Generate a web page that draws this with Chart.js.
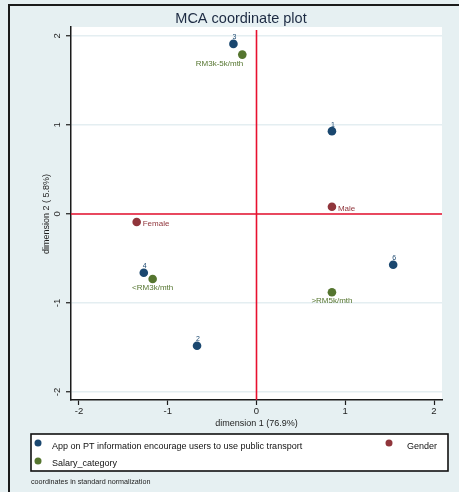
<!DOCTYPE html>
<html>
<head>
<meta charset="utf-8">
<script src="https://cdn.jsdelivr.net/npm/chart.js@4/dist/chart.umd.min.js"></script>
<style>
  html, body { margin: 0; padding: 0; background: #e6f0f2; }
  canvas { display: block; }
</style>
</head>
<body>
<canvas id="mca" width="459" height="492"></canvas>
<script>
// MCA coordinates (standard normalization)
const titleText = 'MCA coordinate plot';
const dim1Title = 'dimension 1 (76.9%)';
const dim2Title = 'dimension 2 ( 5.8%)';
const noteText = 'coordinates in standard normalization';
const axisTicks = [-2, -1, 0, 1, 2];

const appName = 'App on PT information encourage users to use public transport';
const appLabels = ['1', '2', '3', '4', '6'];
const appDim1 = [0.85, -0.67, -0.26, -1.27, 1.54];
const appDim2 = [0.93, -1.48, 1.91, -0.66, -0.57];

const genderName = 'Gender';
const genderLabels = ['Male', 'Female'];
const genderDim1 = [0.85, -1.35];
const genderDim2 = [0.08, -0.09];

const salaryName = 'Salary_category';
const salaryLabels = ['RM3k-5k/mth', '<RM3k/mth', '>RM5k/mth'];
const salaryDim1 = [-0.16, -1.17, 0.85];
const salaryDim2 = [1.79, -0.73, -0.88];

const FONT = '"Liberation Sans", Arial, Helvetica, sans-serif';
const NAVY = '#1a476f', MAROON = '#90353b', GREEN = '#55752f';
const REFLINE = '#e8102e';

function pts(xs, ys) { return xs.map((x, i) => ({ x: x, y: ys[i] })); }

// marker-label placement by clock position
const labelStyles = {
  app:    { pos: [12, 12, 12, 12, 12], size: 7 },
  gender: { pos: [3, 3], size: 8 },
  salary: { pos: [7, 6, 6], size: 8 }
};

const datasets = [
  { label: appName, data: pts(appDim1, appDim2), pointLabels: appLabels, labelStyle: labelStyles.app,
    backgroundColor: NAVY, borderColor: NAVY },
  { label: genderName, data: pts(genderDim1, genderDim2), pointLabels: genderLabels, labelStyle: labelStyles.gender,
    backgroundColor: MAROON, borderColor: MAROON },
  { label: salaryName, data: pts(salaryDim1, salaryDim2), pointLabels: salaryLabels, labelStyle: labelStyles.salary,
    backgroundColor: GREEN, borderColor: GREEN }
];

const decor = {
  id: 'decor',
  beforeDraw(chart) {
    const { ctx, chartArea: a, width, height } = chart;
    ctx.save();
    ctx.fillStyle = '#e6f0f2';
    ctx.fillRect(0, 0, width, height);
    ctx.strokeStyle = '#1b1b1b';
    ctx.lineWidth = 2;
    ctx.beginPath();
    ctx.moveTo(9, height + 5);
    ctx.lineTo(9, 5);
    ctx.lineTo(width + 5, 5);
    ctx.stroke();
    ctx.fillStyle = '#ffffff';
    ctx.fillRect(a.left, a.top, a.right - a.left, a.bottom - a.top);
    ctx.restore();
  },
  beforeDatasetsDraw(chart) {
    const { ctx, chartArea: a, scales } = chart;
    const x0 = scales.x.getPixelForValue(0);
    const y0 = scales.y.getPixelForValue(0);
    ctx.save();
    ctx.strokeStyle = REFLINE;
    ctx.lineWidth = 1.6;
    ctx.beginPath();
    ctx.moveTo(x0, a.top + 3);
    ctx.lineTo(x0, a.bottom);
    ctx.moveTo(a.left, y0);
    ctx.lineTo(a.right, y0);
    ctx.stroke();
    ctx.restore();
  },
  afterDatasetsDraw(chart) {
    const { ctx } = chart;
    ctx.save();
    chart.data.datasets.forEach((ds, di) => {
      const meta = chart.getDatasetMeta(di);
      ctx.fillStyle = ds.backgroundColor;
      ctx.font = ds.labelStyle.size + 'px ' + FONT;
      meta.data.forEach((el, i) => {
        const p = ds.labelStyle.pos[i];
        const txt = ds.pointLabels[i];
        let x = el.x, y = el.y;
        if (p === 12) { ctx.textAlign = 'center'; ctx.textBaseline = 'bottom'; x += 1; y -= 3; }
        else if (p === 3) { ctx.textAlign = 'left'; ctx.textBaseline = 'middle'; x += 6; y += 2; }
        else if (p === 6) { ctx.textAlign = 'center'; ctx.textBaseline = 'top'; y += 5; }
        else if (p === 7) { ctx.textAlign = 'right'; ctx.textBaseline = 'top'; x += 1; y += 5; }
        ctx.fillText(txt, x, y);
      });
    });
    ctx.restore();
  },
  afterDraw(chart) {
    const { ctx, scales } = chart;
    ctx.save();
    // title
    ctx.fillStyle = '#1c2a42';
    ctx.font = '14.5px ' + FONT;
    ctx.textAlign = 'center';
    ctx.textBaseline = 'middle';
    ctx.fillText(titleText, 241, 19);
    // axis titles
    ctx.fillStyle = '#1e1e1e';
    ctx.font = '9px ' + FONT;
    ctx.fillText(dim1Title, scales.x.getPixelForValue(0), 424);
    ctx.save();
    ctx.translate(47, scales.y.getPixelForValue(0));
    ctx.rotate(-Math.PI / 2);
    ctx.fillText(dim2Title, 0, 0);
    ctx.restore();
    // legend box
    ctx.fillStyle = '#ffffff';
    ctx.fillRect(31, 434, 417, 37);
    ctx.strokeStyle = '#111111';
    ctx.lineWidth = 1.6;
    ctx.strokeRect(31, 434, 417, 37);
    const items = [
      { ds: chart.data.datasets[0], dx: 38, dy: 443, tx: 52, ty: 447 },
      { ds: chart.data.datasets[1], dx: 389, dy: 443, tx: 407, ty: 447 },
      { ds: chart.data.datasets[2], dx: 38, dy: 461, tx: 52, ty: 464 }
    ];
    ctx.font = '9px ' + FONT;
    ctx.textAlign = 'left';
    ctx.textBaseline = 'middle';
    items.forEach(it => {
      ctx.fillStyle = it.ds.backgroundColor;
      ctx.beginPath();
      ctx.arc(it.dx, it.dy, 3.5, 0, Math.PI * 2);
      ctx.fill();
      ctx.fillStyle = '#111111';
      ctx.fillText(it.ds.label, it.tx, it.ty);
    });
    // note
    ctx.font = '7.2px ' + FONT;
    ctx.fillStyle = '#222222';
    ctx.fillText(noteText, 31, 482);
    ctx.restore();
  }
};

new Chart(document.getElementById('mca'), {
  type: 'scatter',
  data: { datasets: datasets },
  options: {
    responsive: false,
    animation: false,
    devicePixelRatio: 1,
    layout: { padding: { left: 0, right: 17, top: 27, bottom: 0 } },
    plugins: { legend: { display: false }, title: { display: false }, tooltip: { enabled: false } },
    elements: { point: { radius: 4.3, borderWidth: 0, hoverRadius: 4.3 } },
    scales: {
      x: {
        type: 'linear', min: -2.09, max: 2.09,
        afterFit(s) { s.height = 92; },
        afterBuildTicks(s) { s.ticks = axisTicks.map(v => ({ value: v })); },
        border: { color: '#1b1b1b', width: 1.5 },
        grid: { drawOnChartArea: false, tickColor: '#1b1b1b', tickLength: 5, tickWidth: 1.2 },
        ticks: { color: '#1e1e1e', font: { family: FONT, size: 9.5 }, padding: 1, maxRotation: 0 }
      },
      y: {
        type: 'linear', min: -2.09, max: 2.10,
        afterFit(s) { s.width = 71; },
        afterBuildTicks(s) { s.ticks = axisTicks.map(v => ({ value: v })); },
        border: { color: '#1b1b1b', width: 1.5 },
        grid: { color: '#e4eef1', lineWidth: 1.5, tickColor: '#1b1b1b', tickLength: 5, tickWidth: 1.2 },
        ticks: { color: '#1e1e1e', font: { family: FONT, size: 9.5 }, padding: 4, minRotation: 90, maxRotation: 90, crossAlign: 'center' }
      }
    }
  },
  plugins: [decor]
});
</script>
</body>
</html>
